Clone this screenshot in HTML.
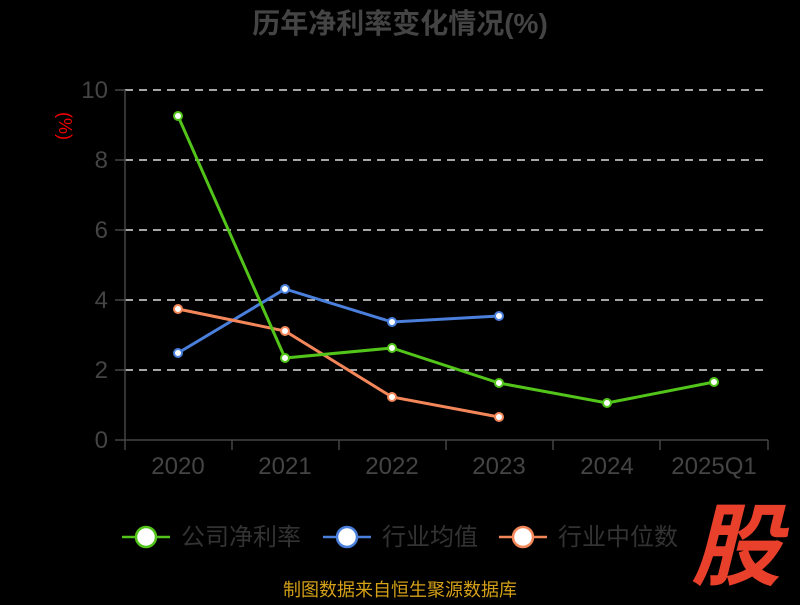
<!DOCTYPE html>
<html><head><meta charset="utf-8"><style>
body{margin:0;background:#000;width:800px;height:600px;overflow:hidden}
svg text{font-family:"Liberation Sans","Noto Sans CJK SC",sans-serif}
</style></head><body>
<svg width="800" height="600" xmlns="http://www.w3.org/2000/svg">
<rect width="800" height="600" fill="#000"/>
<text x="400" y="33" text-anchor="middle" font-size="28" font-weight="bold" fill="#444">历年净利率变化情况(%)</text>
<text x="59" y="126" text-anchor="middle" font-size="18" fill="#e00" transform="rotate(90 59 126)">(%)</text>
<g stroke="#ddd" stroke-width="1.5" stroke-dasharray="8,6">
<line x1="125" y1="90" x2="768" y2="90"/><line x1="125" y1="160" x2="768" y2="160"/><line x1="125" y1="230" x2="768" y2="230"/><line x1="125" y1="300" x2="768" y2="300"/><line x1="125" y1="370" x2="768" y2="370"/>
</g>
<g stroke="#444" stroke-width="1.5">
<line x1="125" y1="90" x2="125" y2="440"/><line x1="125" y1="440" x2="768" y2="440"/>
<line x1="115" y1="90" x2="125" y2="90"/><line x1="115" y1="160" x2="125" y2="160"/><line x1="115" y1="230" x2="125" y2="230"/><line x1="115" y1="300" x2="125" y2="300"/><line x1="115" y1="370" x2="125" y2="370"/><line x1="115" y1="440" x2="125" y2="440"/>
<line x1="125" y1="440" x2="125" y2="450"/><line x1="232" y1="440" x2="232" y2="450"/><line x1="339" y1="440" x2="339" y2="450"/><line x1="446" y1="440" x2="446" y2="450"/><line x1="553" y1="440" x2="553" y2="450"/><line x1="660" y1="440" x2="660" y2="450"/><line x1="768" y1="440" x2="768" y2="450"/>
</g>
<g font-size="24" fill="#444" text-anchor="end">
<text x="108" y="98">10</text><text x="108" y="168">8</text><text x="108" y="238">6</text><text x="108" y="308">4</text><text x="108" y="378">2</text><text x="108" y="448">0</text>
</g>
<g font-size="24" fill="#444" text-anchor="middle">
<text x="178" y="474">2020</text><text x="285" y="474">2021</text><text x="392" y="474">2022</text><text x="499" y="474">2023</text><text x="607" y="474">2024</text><text x="714" y="474">2025Q1</text>
</g>
<g fill="none" stroke-width="3">
<polyline stroke="#4a7fdc" points="178,353 285,289 392,322 499,316"/>
<polyline stroke="#f4875a" points="178,309 285,331 392,397 499,417"/>
<polyline stroke="#52c41a" points="178,116 285,358 392,348 499,383 607,403 714,382"/>
</g>
<g fill="#fff" stroke-width="2">
<g stroke="#4a7fdc"><circle cx="178" cy="353" r="4"/><circle cx="285" cy="289" r="4"/><circle cx="392" cy="322" r="4"/><circle cx="499" cy="316" r="4"/></g>
<g stroke="#f4875a"><circle cx="178" cy="309" r="4"/><circle cx="285" cy="331" r="4"/><circle cx="392" cy="397" r="4"/><circle cx="499" cy="417" r="4"/></g>
<g stroke="#52c41a"><circle cx="178" cy="116" r="4"/><circle cx="285" cy="358" r="4"/><circle cx="392" cy="348" r="4"/><circle cx="499" cy="383" r="4"/><circle cx="607" cy="403" r="4"/><circle cx="714" cy="382" r="4"/></g>
</g>
<g stroke-width="2.5">
<line x1="122" y1="537" x2="170" y2="537" stroke="#52c41a"/><circle cx="146" cy="537" r="10" fill="#fff" stroke="#52c41a"/>
<line x1="323" y1="537" x2="371" y2="537" stroke="#4a7fdc"/><circle cx="347" cy="537" r="10" fill="#fff" stroke="#4a7fdc"/>
<line x1="499" y1="537" x2="547" y2="537" stroke="#f4875a"/><circle cx="523" cy="537" r="10" fill="#fff" stroke="#f4875a"/>
</g>
<g font-size="24" fill="#333">
<text x="181" y="545">公司净利率</text><text x="382" y="545">行业均值</text><text x="558" y="545">行业中位数</text>
</g>
<text x="736" y="578" text-anchor="middle" font-size="90" font-weight="bold" font-style="italic" fill="#e8402a" font-family="'Noto Sans CJK SC',sans-serif">股</text>
<text x="400" y="596" text-anchor="middle" font-size="18" fill="#d4a017">制图数据来自恒生聚源数据库</text>
</svg>
</body></html>
